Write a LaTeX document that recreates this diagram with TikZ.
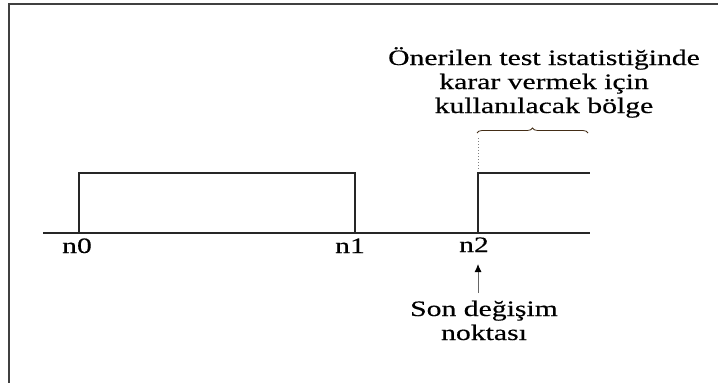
\documentclass[tikz,border=0pt]{standalone}
\usepackage{fontspec}
\setmainfont{Liberation Serif}[FakeStretch=1.35,FakeBold=0.35]
\usetikzlibrary{arrows.meta,decorations.pathreplacing}
\begin{document}
\begin{tikzpicture}[x=1pt,y=-1pt,
  lbl/.style={inner sep=0pt,font=\fontsize{22}{24}\selectfont},
  signal/.style={line width=1.4pt,black!85},
  frame/.style={line width=2pt,black!75}]
\useasboundingbox (0,0) rectangle (718,383);
% outer frame (only the left and top edges are visible)
\draw[frame] (9,383) -- (9,4) -- (718,4);

% time axis
\coordinate (ax0) at (43,233);
\coordinate (ax1) at (590,233);
\draw[signal] (ax0) -- (ax1);

% first pulse between n0 and n1
\coordinate (p0) at (79,233);
\coordinate (p1) at (355,233);
\draw[signal] (p0) -- (79,173) -- (355,173) -- (p1);

% step from n2 onwards
\coordinate (p2) at (478,233);
\coordinate (p3) at (590,173);
\draw[signal] (p2) -- (478,173) -- (p3);

% axis labels
\node[lbl,anchor=base] (n0) at (77,253) {n0};
\node[lbl,anchor=base] (n1) at (350,253) {n1};
\node[lbl,anchor=base] (n2) at (474,252) {n2};

% last change point (base anchor sits on the last line)
\node[lbl,anchor=base,align=center] (son) at (484,340) {Son değişim\\noktası};
\coordinate (arrowtail) at (478,293);
\draw[black!60,line width=0.9pt,-{Latex[length=8pt,width=7pt,black]}] (arrowtail) -- (478,264);

% decision region
\node[lbl,anchor=base,align=center] (region) at (544,113)
  {Önerilen test istatistiğinde\\karar vermek için\\kullanılacak bölge};
\coordinate (b0) at (477,133);
\coordinate (b1) at (588,133);
\draw[black!65!brown,line width=0.8pt,decorate,decoration={brace,amplitude=5pt}] (b0) -- (b1);
\draw[black!50,dotted,line width=1pt] (478,138) -- (478,169);
\end{tikzpicture}
\end{document}
